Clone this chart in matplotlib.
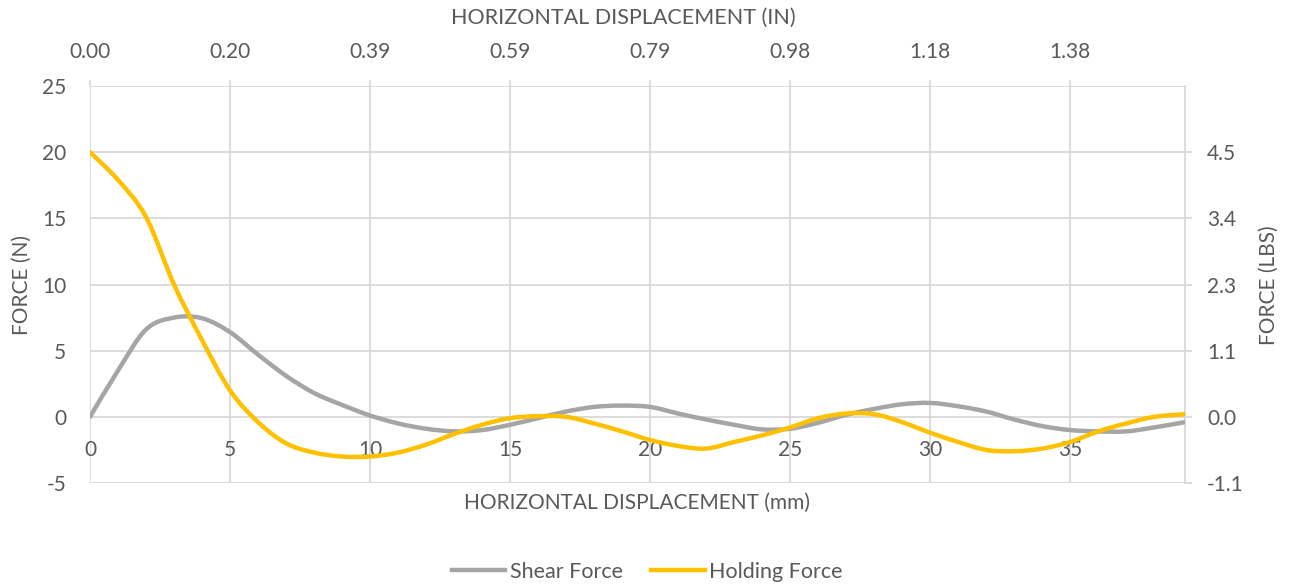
import matplotlib
matplotlib.use("Agg")
import matplotlib.pyplot as plt
import numpy as np
from matplotlib.path import Path
from matplotlib.patches import PathPatch
from matplotlib.lines import Line2D

# values
displacement_mm = [0, 1, 2, 3, 4, 5, 6, 7, 8, 9, 10, 11, 12, 13, 14, 15, 16, 17, 18, 19,
                   20, 21, 22, 23, 24, 25, 26, 27, 28, 29, 30, 31, 32, 33, 34, 35, 36, 37, 38, 39.1]
shear_force = [0.0, 3.5, 6.6, 7.5, 7.45, 6.4, 4.7, 3.1, 1.8, 0.9, 0.1, -0.5, -0.9, -1.1, -1.0,
               -0.6, -0.1, 0.4, 0.75, 0.85, 0.75, 0.25, -0.2, -0.6, -0.95, -0.9, -0.45, 0.15,
               0.6, 0.95, 1.05, 0.8, 0.4, -0.2, -0.7, -1.0, -1.1, -1.1, -0.8, -0.4]
holding_force = [20.0, 17.9, 15.1, 10.0, 5.8, 2.0, -0.4, -2.0, -2.7, -3.0, -3.0, -2.7, -2.1,
                 -1.3, -0.6, -0.1, 0.05, 0.0, -0.5, -1.1, -1.75, -2.2, -2.4, -1.9, -1.4, -0.8,
                 -0.1, 0.25, 0.2, -0.4, -1.2, -1.9, -2.5, -2.6, -2.4, -1.9, -1.1, -0.5, 0.0, 0.2]

x_ticks = [0, 5, 10, 15, 20, 25, 30, 35]
y_ticks = [-5, 0, 5, 10, 15, 20, 25]
inch_labels = ["0.00", "0.20", "0.39", "0.59", "0.79", "0.98", "1.18", "1.38"]
lbs_ticks = [-5, 0, 5, 10, 15, 20]
lbs_labels = ["-1.1", "0.0", "1.1", "2.3", "3.4", "4.5"]

GRAY = "#A5A5A5"
GOLD = "#FFC000"
GRID = "#D9D9D9"
TEXT = "#595959"
FS = 15

plt.rcParams["font.family"] = ["Lato", "DejaVu Sans"]
plt.rcParams["axes.unicode_minus"] = False


def smooth_path(xs, ys):
    """Excel-like smoothed line: Catmull-Rom segments as cubic Beziers."""
    pts = np.column_stack([xs, ys]).astype(float)
    ext = np.vstack([pts[0], pts, pts[-1]])
    verts = [pts[0]]
    codes = [Path.MOVETO]
    for i in range(1, len(ext) - 2):
        p0, p1, p2, p3 = ext[i - 1], ext[i], ext[i + 1], ext[i + 2]
        verts += [p1 + (p2 - p0) / 6, p2 - (p3 - p1) / 6, p2]
        codes += [Path.CURVE4] * 3
    return Path(verts, codes)


fig = plt.figure(figsize=(12.91, 5.84), dpi=100)
ax = fig.add_axes([90 / 1291, 1 - 483 / 584, 1095 / 1291, 397 / 584])
ax.set_xlim(0, 39.1)
ax.set_ylim(-5, 25)

for spine in ax.spines.values():
    spine.set_visible(False)
ax.spines["right"].set_visible(True)
ax.spines["right"].set_color(GRID)
ax.spines["right"].set_linewidth(1.3)

ax.set_xticks(x_ticks)
ax.set_yticks(y_ticks)
ax.grid(True, color=GRID, linewidth=1.3)
ax.set_axisbelow(True)
ax.spines["bottom"].set_position(("data", 0))
ax.tick_params(axis="x", length=0, pad=17, labelsize=FS, labelcolor=TEXT)
ax.tick_params(axis="y", length=0, pad=17, labelsize=FS, labelcolor=TEXT)

for ys, color, z in [(shear_force, GRAY, 3), (holding_force, GOLD, 4)]:
    patch = PathPatch(smooth_path(displacement_mm, ys), fill=False, edgecolor=color,
                      linewidth=3.2, capstyle="round", joinstyle="round", zorder=z)
    ax.add_patch(patch)

# top axis in inches
top = ax.twiny()
top.set_xlim(ax.get_xlim())
top.set_xticks(x_ticks)
top.set_xticklabels(inch_labels)
top.tick_params(axis="x", direction="out", length=4.5, width=1.3, color=GRID,
                pad=13, labelsize=FS, labelcolor=TEXT)
for spine in top.spines.values():
    spine.set_visible(False)

# right axis in pounds
right = ax.twinx()
right.set_ylim(ax.get_ylim())
right.set_yticks(lbs_ticks)
right.set_yticklabels(lbs_labels)
right.tick_params(axis="y", direction="out", length=5, width=1.3, color=GRID,
                  pad=11, labelsize=FS, labelcolor=TEXT)
for spine in right.spines.values():
    spine.set_visible(False)

fig.text(623 / 1291, 1 - 18 / 584, "HORIZONTAL DISPLACEMENT (IN)", ha="center", va="center",
         fontsize=15.5, color=TEXT)
fig.text(637 / 1291, 1 - 503 / 584, "HORIZONTAL DISPLACEMENT (mm)", ha="center", va="center",
         fontsize=FS, color=TEXT)
fig.text(22 / 1291, 1 - 285 / 584, "FORCE (N)", ha="center", va="center", rotation=90,
         fontsize=FS, color=TEXT)
fig.text(1269 / 1291, 1 - 285 / 584, "FORCE (LBS)", ha="center", va="center", rotation=90,
         fontsize=FS, color=TEXT)

handles = [Line2D([], [], color=GRAY, linewidth=3.2),
           Line2D([], [], color=GOLD, linewidth=3.2)]
fig.legend(handles, ["Shear Force", "Holding Force"], loc="center", ncol=2,
           bbox_to_anchor=(647 / 1291, 1 - 572 / 584), frameon=False, fontsize=15.5,
           labelcolor=TEXT, handlelength=2.5, handletextpad=0.2, columnspacing=1.3)

fig.savefig("out.png", dpi=100)
